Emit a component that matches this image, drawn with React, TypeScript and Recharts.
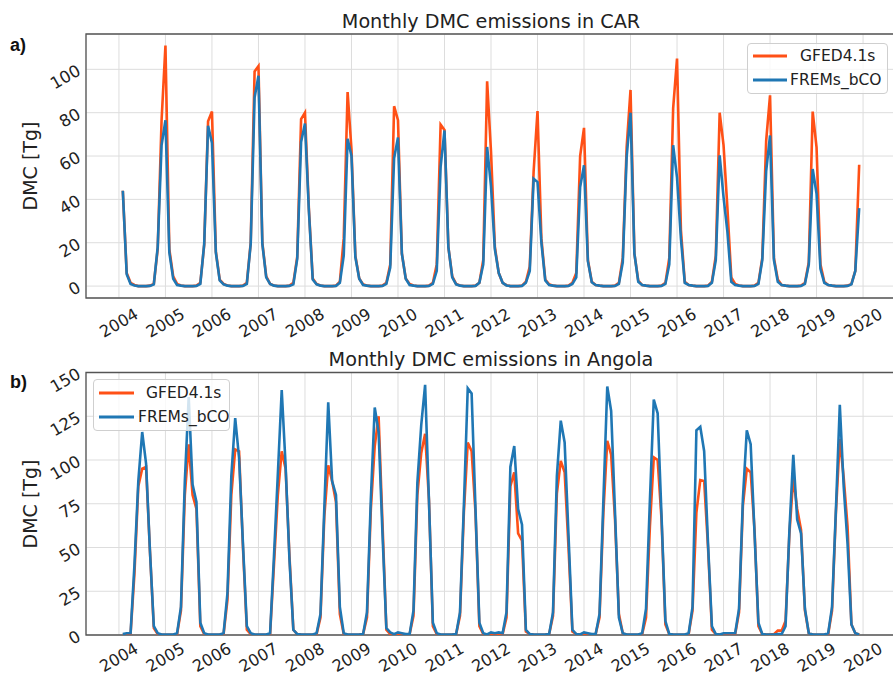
import React from "react";
import {
  CartesianGrid,
  Legend,
  Line,
  LineChart,
  ReferenceArea,
  XAxis,
  YAxis,
} from "recharts";

// Monthly values, one row per year (Jan..Dec). null = no data.
const YEARS = [2004, 2005, 2006, 2007, 2008, 2009, 2010, 2011, 2012, 2013, 2014, 2015, 2016, 2017, 2018, 2019];
const YEAR_TICKS = [2004, 2005, 2006, 2007, 2008, 2009, 2010, 2011, 2012, 2013, 2014, 2015, 2016, 2017, 2018, 2019, 2020];
const SERIES_NAMES = ["GFED4.1s", "FREMs_bCO"];

const CAR_GFED = [
  null, 44, 6, 1.5, 0.5, 0, 0, 0, 0.2, 1, 17, 76.5,
  111, 17, 4.5, 1, 0.3, 0, 0, 0, 0.2, 1.5, 19, 76,
  80.5, 16, 3, 1, 0.3, 0, 0, 0, 0.2, 1.5, 20, 99,
  101.5, 20, 4.5, 1, 0.3, 0, 0, 0, 0.2, 1.5, 13.5, 77,
  80, 36, 3.5, 1, 0.3, 0, 0, 0, 0.2, 2, 22, 89.5,
  63, 14, 3.5, 0.8, 0.2, 0, 0, 0, 0.2, 1.5, 10, 83,
  76.5, 15, 3.5, 1, 0.3, 0, 0, 0, 0.2, 1.5, 10, 74.5,
  72, 18, 4.5, 1, 0.3, 0, 0, 0, 0.2, 1.5, 12, 94.5,
  62, 18, 6, 1.5, 0.4, 0, 0, 0, 0.2, 2, 9, 53,
  80.7, 22, 3, 0.8, 0.2, 0, 0, 0, 0.2, 1.5, 6, 60,
  73, 12, 2, 0.5, 0.2, 0, 0, 0, 0.2, 1.5, 13, 64,
  90.5, 15, 2.5, 0.5, 0.2, 0, 0, 0, 0.2, 1.5, 13, 82,
  105, 26, 2, 0.5, 0.2, 0, 0, 0, 0.2, 2, 14, 80,
  65, 36, 4, 1, 0.3, 0, 0, 0, 0.2, 1.5, 13, 67,
  88, 13, 3, 0.5, 0.2, 0, 0, 0, 0.2, 1.5, 11, 80.5,
  64, 10, 2, 0.5, 0.2, 0, 0, 0, 0.2, 1, 7, 56,
];

const CAR_FREM = [
  null, 44, 5.5, 1, 0.3, 0, 0, 0, 0.1, 0.8, 18, 65,
  76.5, 15.5, 3.4, 0.5, 0.2, 0, 0, 0, 0.1, 1, 19.5, 74,
  66, 15.5, 2.6, 0.8, 0.2, 0, 0, 0, 0.1, 1, 19.5, 87,
  97, 19.5, 4, 1, 0.2, 0, 0, 0, 0.1, 0.8, 12.5, 66.5,
  75, 35, 3, 0.8, 0.2, 0, 0, 0, 0.1, 1.5, 14, 68,
  60, 13.4, 3.4, 0.5, 0.2, 0, 0, 0, 0.1, 1, 8.5, 59,
  68.5, 15, 3.4, 0.5, 0.2, 0, 0, 0, 0.1, 1, 7, 55,
  71.8, 18, 4, 0.8, 0.2, 0, 0, 0, 0.1, 1.5, 10, 64.2,
  46, 17, 6, 1.5, 0.3, 0, 0, 0, 0.1, 1.5, 7, 49.5,
  48, 20, 2.6, 0.5, 0.2, 0, 0, 0, 0.1, 1, 4, 45.7,
  55.7, 11.5, 1.8, 0.5, 0.2, 0, 0, 0, 0.1, 1, 11, 59.5,
  80, 15, 2, 0.5, 0.2, 0, 0, 0, 0.1, 1, 10, 65,
  50, 22, 1.5, 0.5, 0.2, 0, 0, 0, 0.1, 1.5, 12, 60.3,
  41, 25, 2, 0.5, 0.2, 0, 0, 0, 0.1, 1, 12, 53,
  69.5, 12, 2, 0.5, 0.2, 0, 0, 0, 0.1, 1, 10, 54,
  42.6, 8, 1.5, 0.5, 0.2, 0, 0, 0, 0.1, 0.8, 7, 36,
];

const ANG_GFED = [
  null, 0.3, 0.5, 0.5, 35, 85, 95, 96, 48, 4, 0.5, 0.2,
  0.1, 0.1, 0.2, 0.5, 14, 80, 109, 80, 72, 5, 0.5, 0.2,
  0.1, 0.1, 0.2, 0.5, 20, 80, 106, 105, 50, 3, 0.5, 0.2,
  0.1, 0.1, 0.2, 0.5, 40, 80, 105, 95, 45, 3, 0.5, 0.2,
  0.1, 0.1, 0.2, 0.5, 10, 68, 97, 88, 76, 12, 0.5, 0.2,
  0.1, 0.1, 0.2, 0.5, 10, 72, 108, 125, 64, 3, 0.5, 0.2,
  0.5, 0.5, 0.2, 0.5, 11, 80, 104, 115, 77, 5, 0.5, 0.2,
  0.1, 0.1, 0.2, 0.5, 11, 70, 110, 105, 70, 5, 0.5, 0.2,
  0.5, 0.3, 0.5, 0.5, 10, 85, 93, 58, 54, 2, 0.5, 0.2,
  0.1, 0.1, 0.2, 0.5, 11, 81, 99.5, 93, 50, 2, 0.5, 0.2,
  0.5, 0.5, 0.2, 0.5, 10, 70, 111, 103, 66, 12, 1, 0.2,
  0.1, 0.1, 0.2, 0.5, 10, 62, 101.5, 100, 66, 6, 0.5, 0.2,
  0.1, 0.1, 0.2, 0.5, 14, 70, 88.5, 88, 50, 3, 0.5, 0.2,
  0.3, 0.3, 0.5, 0.5, 13, 74, 95, 93, 60, 5, 0.5, 0.2,
  0.3, 0.5, 2.5, 2.5, 8, 58, 90, 72, 60, 14, 1, 0.2,
  0.1, 0.1, 0.2, 0.5, 14, 70, 112, 90, 62, 6, 1, 0.3,
];

const ANG_FREM = [
  null, 0.5, 1, 1, 40, 88, 116, 98, 48, 5, 1, 0.3,
  0.2, 0.2, 0.3, 1, 16, 88, 136, 86, 76, 7, 1, 0.3,
  0.2, 0.2, 0.3, 1, 24, 91, 124, 101, 52, 5, 1, 0.3,
  0.2, 0.2, 0.3, 1, 45, 92, 140, 97, 43, 3, 0.5, 0.3,
  0.2, 0.2, 0.3, 1, 12, 73, 133, 88, 80, 16, 1, 0.3,
  0.2, 0.2, 0.3, 0.5, 13, 78, 130, 116, 58, 4, 1.5, 0.5,
  1.5, 1, 0.5, 0.5, 14, 87, 120, 143, 76, 7, 1, 0.3,
  0.2, 0.2, 0.3, 0.5, 13, 74, 141, 138, 72, 7, 1, 0.3,
  1.5, 1, 1.5, 1, 13, 96, 108, 72, 63, 3, 0.5, 0.3,
  0.2, 0.2, 0.3, 0.5, 13, 91, 122.5, 110, 57, 3, 0.5, 0.3,
  1.5, 1, 0.5, 0.5, 12, 77, 142, 128, 70, 10, 1, 0.3,
  0.2, 0.2, 0.3, 1, 15, 77, 134.5, 126.7, 68, 8, 0.5, 0.3,
  0.2, 0.2, 0.3, 1, 16, 117, 119, 105, 52, 5, 0.5, 0.3,
  1, 1, 1, 1, 15, 78, 117, 109, 58, 7, 0.5, 0.3,
  0.3, 0.3, 0.5, 0.5, 5, 60, 103, 66, 58, 15, 1, 0.3,
  0.2, 0.2, 0.3, 1, 16, 72, 131.5, 85, 52, 6, 1, 0.3,
];

const CAR_Y_TICKS = [0, 20, 40, 60, 80, 100];
const ANG_Y_TICKS = [0, 25, 50, 75, 100, 125, 150];

const ORANGE = "#ff5016";
const BLUE = "#1f77b4";
const FONT = "'DejaVu Sans', sans-serif";
const TEXT = "#222";

type Row = { t: number; gfed: number | null; frem: number | null };

function buildRows(gfed: (number | null)[], frem: (number | null)[]): Row[] {
  const rows: Row[] = [];
  YEARS.forEach((year, yi) => {
    for (let m = 0; m < 12; m++) {
      const g = gfed[yi * 12 + m];
      const f = frem[yi * 12 + m];
      if (g == null && f == null) continue;
      rows.push({ t: year + m / 12, gfed: g, frem: f });
    }
  });
  return rows;
}

// matplotlib-like 5% margin around the date range
function xDomainOf(rows: Row[]): [number, number] {
  const lo = rows[0].t;
  const hi = rows[rows.length - 1].t;
  const pad = (hi - lo) * 0.05;
  return [lo - pad, hi + pad];
}

const YTick = (props: any) => {
  const { x, y, payload } = props;
  return (
    <text
      x={x}
      y={y}
      textAnchor="end"
      dominantBaseline="central"
      transform={`rotate(-30 ${x} ${y})`}
      fontSize={16.5}
      fontFamily={FONT}
      fill={TEXT}
    >
      {payload.value}
    </text>
  );
};

const XTick = (props: any) => {
  const { x, y, payload, offset } = props;
  const cy = y + offset;
  return (
    <text
      x={x}
      y={cy}
      textAnchor="middle"
      dominantBaseline="central"
      transform={`rotate(-30 ${x} ${cy})`}
      fontSize={16.2}
      fontFamily={FONT}
      fill={TEXT}
    >
      {payload.value}
    </text>
  );
};

type LegendLayout = {
  width: number;
  height: number;
  rows: number[];
  lineX: [number, number];
  textX: number[];
};

function makeLegend(layout: LegendLayout) {
  return (props: any) => {
    const payload = [...(props.payload || [])].sort(
      (a: any, b: any) => SERIES_NAMES.indexOf(a.value) - SERIES_NAMES.indexOf(b.value)
    );
    return (
      <div
        style={{
          width: layout.width,
          height: layout.height,
          boxSizing: "border-box",
          border: "1px solid #cfcfcf",
          borderRadius: 4,
          background: "rgba(255,255,255,0.8)",
        }}
      >
        <svg width={layout.width - 2} height={layout.height - 2} style={{ display: "block" }}>
          {payload.map((entry: any, i: number) => (
            <g key={entry.value}>
              <line
                x1={layout.lineX[0]}
                x2={layout.lineX[1]}
                y1={layout.rows[i]}
                y2={layout.rows[i]}
                stroke={entry.color}
                strokeWidth={2.8}
              />
              <text
                x={layout.textX[i]}
                y={layout.rows[i]}
                dominantBaseline="central"
                fontSize={15.5}
                fontFamily={FONT}
                fill={TEXT}
              >
                {entry.value}
              </text>
            </g>
          ))}
        </svg>
      </div>
    );
  };
}

type PanelProps = {
  rows: Row[];
  yDomain: [number, number];
  yTicks: number[];
  height: number;
  marginTop: number;
  xAxisHeight: number;
  xTickOffset: number;
  legendPos: { left: number; top: number };
  legend: LegendLayout;
};

function Panel({ rows, yDomain, yTicks, height, marginTop, xAxisHeight, xTickOffset, legendPos, legend }: PanelProps) {
  const xDomain = xDomainOf(rows);
  return (
    <LineChart
      width={893}
      height={height}
      data={rows}
      margin={{ top: marginTop, right: -3, bottom: 0, left: 0 }}
    >
      <CartesianGrid stroke="#dddddd" strokeWidth={1} />
      <XAxis
        type="number"
        dataKey="t"
        domain={xDomain}
        ticks={YEAR_TICKS}
        interval={0}
        allowDataOverflow
        height={xAxisHeight}
        tickSize={0}
        tickMargin={0}
        axisLine={false}
        tick={<XTick offset={xTickOffset} />}
      />
      <YAxis
        type="number"
        domain={yDomain}
        ticks={yTicks}
        interval={0}
        allowDataOverflow
        width={86}
        tickSize={0}
        tickMargin={7}
        axisLine={false}
        tick={<YTick />}
      />
      <Line
        type="linear"
        dataKey="gfed"
        name={SERIES_NAMES[0]}
        stroke={ORANGE}
        strokeWidth={2.6}
        dot={false}
        isAnimationActive={false}
      />
      <Line
        type="linear"
        dataKey="frem"
        name={SERIES_NAMES[1]}
        stroke={BLUE}
        strokeWidth={2.6}
        dot={false}
        isAnimationActive={false}
      />
      <ReferenceArea
        x1={xDomain[0]}
        x2={xDomain[1]}
        y1={yDomain[0]}
        y2={yDomain[1]}
        fill="none"
        stroke="#555555"
        strokeWidth={1.3}
        ifOverflow="visible"
      />
      <Legend
        layout="horizontal"
        verticalAlign="middle"
        align="center"
        content={makeLegend(legend)}
        wrapperStyle={{ left: legendPos.left, top: legendPos.top, width: legend.width, height: legend.height }}
      />
    </LineChart>
  );
}

export default function App() {
  const carRows = buildRows(CAR_GFED, CAR_FREM);
  const angRows = buildRows(ANG_GFED, ANG_FREM);
  return (
    <div
      style={{
        position: "absolute",
        left: 0,
        top: 0,
        width: 893,
        height: 676,
        overflow: "hidden",
        background: "#fff",
      }}
    >
      <div style={{ position: "absolute", left: 0, top: 340 }}>
        <Panel
          rows={angRows}
          yDomain={[0, 150]}
          yTicks={ANG_Y_TICKS}
          height={336}
          marginTop={32.5}
          xAxisHeight={41}
          xTickOffset={22.5}
          legendPos={{ left: 93, top: 39 }}
          legend={{ width: 137, height: 52, rows: [13, 37], lineX: [5, 40], textX: [52, 44] }}
        />
      </div>
      <div style={{ position: "absolute", left: 0, top: 0 }}>
        <Panel
          rows={carRows}
          yDomain={[-5.5, 116.3]}
          yTicks={CAR_Y_TICKS}
          height={350}
          marginTop={34}
          xAxisHeight={52}
          xTickOffset={25}
          legendPos={{ left: 747, top: 43 }}
          legend={{ width: 141, height: 51, rows: [12, 36], lineX: [5, 39], textX: [52, 42] }}
        />
      </div>
      <svg
        width={893}
        height={676}
        style={{ position: "absolute", left: 0, top: 0, pointerEvents: "none" }}
      >
        <text x={491} y={28} textAnchor="middle" fontSize={19.2} fontFamily={FONT} fill={TEXT}>
          Monthly DMC emissions in CAR
        </text>
        <text x={491} y={366} textAnchor="middle" fontSize={19.2} fontFamily={FONT} fill={TEXT}>
          Monthly DMC emissions in Angola
        </text>
        <text
          x={30}
          y={166}
          textAnchor="middle"
          dominantBaseline="central"
          transform="rotate(-90 30 166)"
          fontSize={19}
          fontFamily={FONT}
          fill={TEXT}
        >
          DMC [Tg]
        </text>
        <text
          x={30}
          y={504}
          textAnchor="middle"
          dominantBaseline="central"
          transform="rotate(-90 30 504)"
          fontSize={19}
          fontFamily={FONT}
          fill={TEXT}
        >
          DMC [Tg]
        </text>
        <text x={10} y={51} fontSize={18} fontWeight="bold" fontFamily="'Liberation Sans', Arial, sans-serif" fill="#111">
          a)
        </text>
        <text x={10} y={388} fontSize={18} fontWeight="bold" fontFamily="'Liberation Sans', Arial, sans-serif" fill="#111">
          b)
        </text>
      </svg>
    </div>
  );
}
